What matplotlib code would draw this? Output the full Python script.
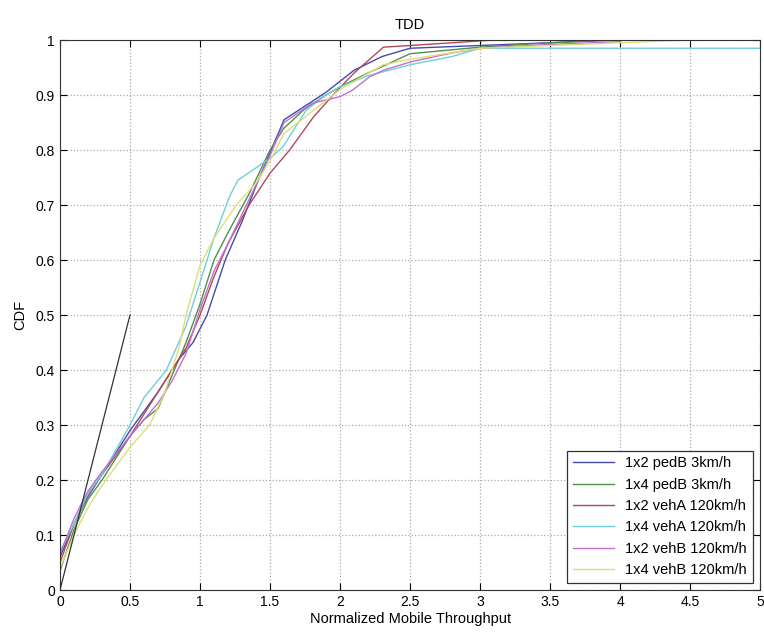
import matplotlib.pyplot as plt
import numpy as np

plt.rcParams['font.family'] = ['Liberation Sans', 'DejaVu Sans']

labels = ['1x2 pedB 3km/h', '1x4 pedB 3km/h', '1x2 vehA 120km/h',
          '1x4 vehA 120km/h', '1x2 vehB 120km/h', '1x4 vehB 120km/h']
colors = ['#4848a8', '#4f8f4f', '#b04a5a', '#6fcfdc', '#c070d0', '#dede78']

# CDF curves
pedB12_x = [0, 0.1, 0.2, 0.3, 0.5, 0.7, 0.85, 0.95, 1.05, 1.18, 1.3, 1.4, 1.5, 1.6, 1.75, 1.9, 2.1, 2.3, 2.5, 3.0, 3.5, 3.9]
pedB12_y = [0.06, 0.12, 0.17, 0.21, 0.29, 0.36, 0.42, 0.45, 0.50, 0.60, 0.67, 0.735, 0.795, 0.855, 0.88, 0.905, 0.945, 0.97, 0.985, 0.99, 0.995, 1.0]

pedB14_x = [0, 0.1, 0.2, 0.3, 0.5, 0.6, 0.7, 0.8, 0.9, 1.0, 1.1, 1.2, 1.35, 1.5, 1.6, 1.75, 1.9, 2.0, 2.2, 2.5, 3.0, 3.5, 4.0]
pedB14_y = [0.035, 0.11, 0.165, 0.2, 0.28, 0.31, 0.33, 0.39, 0.45, 0.52, 0.6, 0.65, 0.72, 0.8, 0.84, 0.875, 0.9, 0.915, 0.94, 0.975, 0.987, 0.995, 1.0]

vehA12_x = [0, 0.1, 0.2, 0.3, 0.5, 0.7, 0.8, 0.9, 1.0, 1.1, 1.2, 1.35, 1.5, 1.64, 1.81, 1.95, 2.1, 2.31, 2.5, 3.1]
vehA12_y = [0.05, 0.12, 0.175, 0.21, 0.28, 0.36, 0.40, 0.44, 0.50, 0.57, 0.63, 0.70, 0.758, 0.80, 0.86, 0.9, 0.94, 0.987, 0.99, 1.0]

vehA14_x = [0, 0.1, 0.2, 0.3, 0.5, 0.6, 0.76, 0.9, 1.0, 1.1, 1.21, 1.27, 1.5, 1.59, 1.76, 1.9, 2.0, 2.2, 2.5, 2.8, 3.0, 5.0]
vehA14_y = [0.07, 0.12, 0.175, 0.21, 0.30, 0.35, 0.40, 0.48, 0.56, 0.64, 0.715, 0.745, 0.785, 0.805, 0.873, 0.9, 0.915, 0.935, 0.955, 0.97, 0.985, 0.985]

vehB12_x = [0, 0.1, 0.2, 0.3, 0.5, 0.7, 0.8, 0.9, 1.0, 1.1, 1.2, 1.35, 1.5, 1.6, 1.8, 2.0, 2.09, 2.21, 2.31, 2.5, 2.79, 3.0, 3.5, 4.0]
vehB12_y = [0.065, 0.13, 0.18, 0.215, 0.28, 0.34, 0.38, 0.43, 0.51, 0.58, 0.63, 0.71, 0.79, 0.85, 0.885, 0.897, 0.909, 0.933, 0.945, 0.96, 0.976, 0.985, 0.992, 0.997]

vehB14_x = [0, 0.1, 0.2, 0.3, 0.5, 0.64, 0.75, 0.85, 0.9, 1.0, 1.1, 1.26, 1.4, 1.5, 1.6, 1.8, 2.0, 2.31, 2.5, 3.0, 3.5, 4.0, 4.5]
vehB14_y = [0.04, 0.1, 0.15, 0.19, 0.26, 0.3, 0.36, 0.44, 0.5, 0.59, 0.64, 0.70, 0.74, 0.78, 0.83, 0.87, 0.91, 0.955, 0.965, 0.985, 0.99, 0.995, 1.0]

ref_x = [0, 0.5]
ref_y = [0, 0.5]

series = [(pedB12_x, pedB12_y), (pedB14_x, pedB14_y), (vehA12_x, vehA12_y),
          (vehA14_x, vehA14_y), (vehB12_x, vehB12_y), (vehB14_x, vehB14_y)]

fig = plt.figure(figsize=(7.64, 6.4), dpi=100)
ax = fig.add_axes([0.0785, 0.078, 0.9165, 0.8595])

for (xs, ys), c, lab in zip(series, colors, labels):
    ax.plot(xs, ys, color=c, linewidth=1.0, label=lab)
ax.plot(ref_x, ref_y, color='#333333', linewidth=0.9)

ax.set_xlim(0, 5)
ax.set_ylim(0, 1)
ax.set_xticks(np.arange(0, 5.01, 0.5))
ax.set_xticklabels(['0', '0.5', '1', '1.5', '2', '2.5', '3', '3.5', '4', '4.5', '5'])
ax.set_yticks(np.arange(0, 1.01, 0.1))
ax.set_yticklabels(['0', '0.1', '0.2', '0.3', '0.4', '0.5', '0.6', '0.7', '0.8', '0.9', '1'])
ax.tick_params(direction='in', top=True, right=True, labelsize=10, length=5)
ax.grid(True, linestyle=':', color='#aaaaaa', linewidth=0.9)
for s in ax.spines.values():
    s.set_color('#333333')

ax.set_title('TDD', fontsize=10.5, pad=8)
ax.set_xlabel('Normalized Mobile Throughput', fontsize=10.5, labelpad=2)
ax.set_ylabel('CDF', fontsize=10.5, labelpad=6)

leg = ax.legend(loc='lower right', fontsize=10.5, fancybox=False, framealpha=1,
                edgecolor='#333333', handlelength=2.8, borderaxespad=0.5,
                labelspacing=0.5)
leg.get_frame().set_linewidth(0.9)

fig.savefig('out.png', dpi=100)
